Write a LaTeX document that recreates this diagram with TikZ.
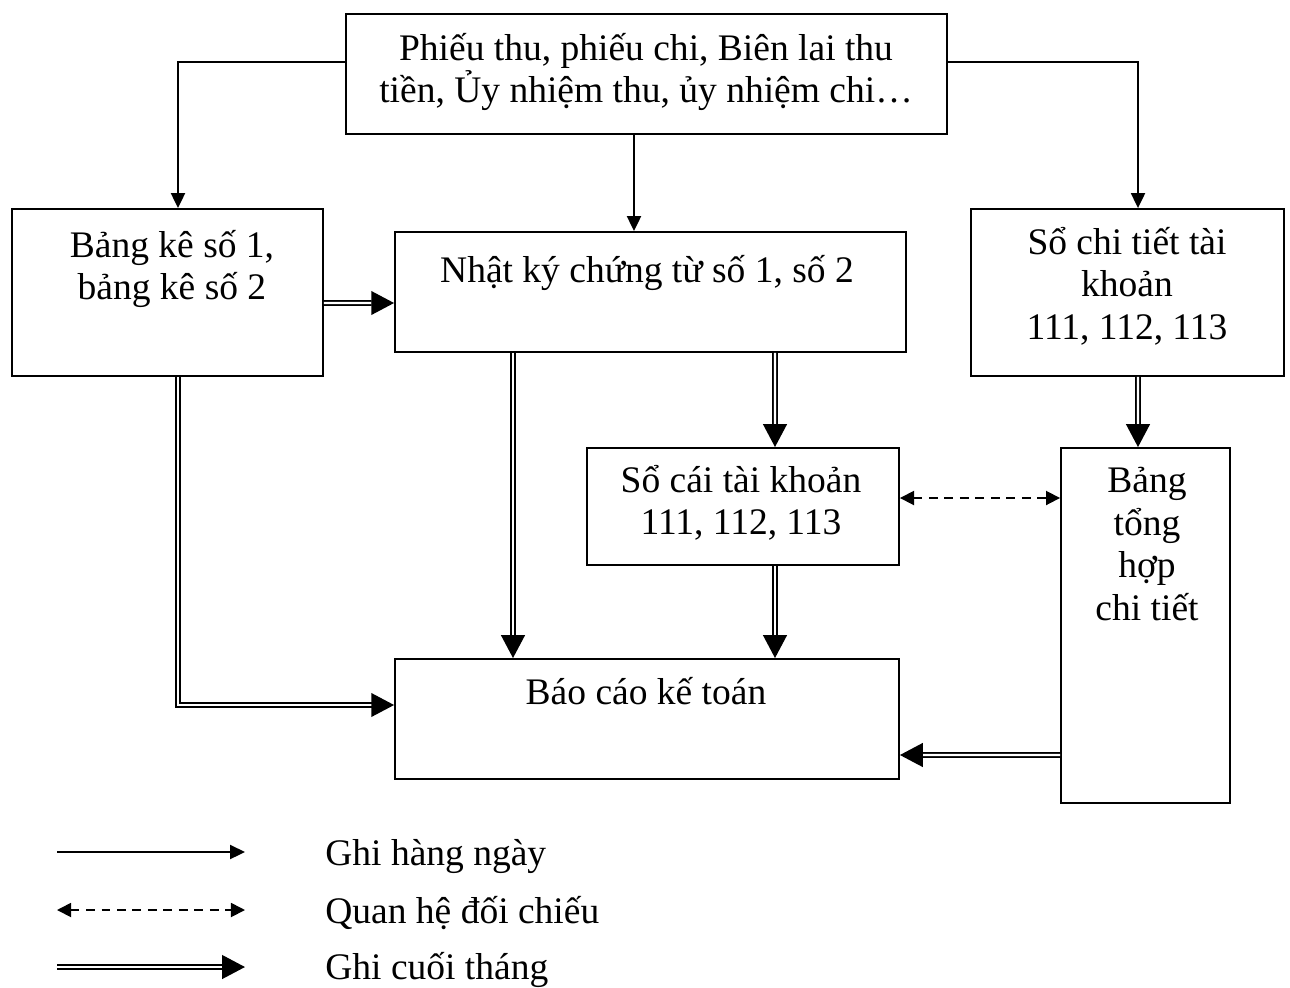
\documentclass[tikz,border=0pt]{standalone}
\usepackage{fontspec}
\setmainfont{Liberation Serif}
\usetikzlibrary{arrows.meta,calc}
\tikzstyle{box}=[draw=black,line width=1.1pt,shape=rectangle,inner sep=0pt]
\tikzstyle{txt}=[inner sep=0pt,align=center,font=\fontsize{21.35}{24.2}\selectfont]
\tikzstyle{daily}=[line width=1pt,-{Triangle[length=8.5pt,width=8pt]}]
\tikzstyle{monthly}=[double,double distance=1.3pt,line width=0.95pt,-{Triangle[length=13pt,width=13.5pt]}]
\tikzstyle{check}=[line width=1pt,dash pattern=on 5pt off 3.8pt,{Triangle[length=8pt,width=8pt]}-{Triangle[length=8pt,width=8pt]}]

\begin{document}
\begin{tikzpicture}[x=0.02cm, y=-0.02cm]
	\useasboundingbox (0,0) rectangle (1290,987);
	% boxes
	\node[box, minimum width=12.02cm, minimum height=2.4cm] (src) at (646.5,74) {};
	\node[box, minimum width=6.22cm, minimum height=3.34cm] (bk) at (167.5,292.5) {};
	\node[box, minimum width=10.22cm, minimum height=2.4cm] (nk) at (650.5,292) {};
	\node[box, minimum width=6.26cm, minimum height=3.34cm] (sct) at (1127.5,292.5) {};
	\node[box, minimum width=6.24cm, minimum height=2.34cm] (sc) at (743,506.5) {};
	\node[box, minimum width=3.38cm, minimum height=7.1cm] (bth) at (1145.5,625.5) {};
	\node[box, minimum width=10.08cm, minimum height=2.4cm] (bc) at (647,719) {};
	% texts
	\node[txt] at (646,72) {Phiếu thu, phiếu chi, Biên lai thu\\tiền, Ủy nhiệm thu, ủy nhiệm chi…};
	\node[txt] at (172,269) {Bảng kê số 1,\\bảng kê số 2};
	\node[txt] at (647,273) {Nhật ký chứng từ số 1, số 2};
	\node[txt] at (1127,286) {Sổ chi tiết tài\\khoản\\111, 112, 113};
	\node[txt] at (741,503) {Sổ cái tài khoản\\111, 112, 113};
	\node[txt] at (1147,544) {Bảng\\tổng\\hợp\\chi tiết};
	\node[txt] at (646,691) {Báo cáo kế toán};
	% connectors
	\draw[daily] ($(src.west)+(0,-12)$) -| ($(bk.north)+(10.5,0)$);
	\draw[daily] ($(src.south)+(-12.5,0)$) -- ($(nk.north)+(-16.5,0)$);
	\draw[daily] ($(src.east)+(0,-12)$) -| ($(sct.north)+(10.5,0)$);
	\draw[monthly] ($(bk.east)+(0,10.5)$) -- ($(nk.west)+(0,11)$);
	\draw[monthly] ($(bk.south)+(10.5,0)$) |- ($(bc.west)+(0,-14)$);
	\draw[monthly] ($(nk.south)+(-137.5,0)$) -- ($(bc.north)+(-134,0)$);
	\draw[monthly] ($(nk.south)+(124.5,0)$) -- ($(sc.north)+(32,0)$);
	\draw[monthly] ($(sct.south)+(10.5,0)$) -- ($(bth.north)+(-7.5,0)$);
	\draw[check] ($(sc.east)+(0,-8.5)$) -- ($(bth.west)+(0,-127.5)$);
	\draw[monthly] ($(sc.south)+(32,0)$) -- ($(bc.north)+(128,0)$);
	\draw[monthly] ($(bth.west)+(0,129.5)$) -- ($(bc.east)+(0,36)$);
	% legend
	\coordinate (d1) at (57,852);
	\coordinate (d2) at (245,852);
	\coordinate (q1) at (57,910);
	\coordinate (q2) at (245,910);
	\coordinate (m1) at (57,967);
	\coordinate (m2) at (245,967);
	\draw[daily] (d1) -- (d2);
	\draw[check] (q1) -- (q2);
	\draw[monthly] (m1) -- (m2);
	\node[txt, anchor=west] at (325,856) {Ghi hàng ngày};
	\node[txt, anchor=west] at (325,913) {Quan hệ đối chiếu};
	\node[txt, anchor=west] at (325,970) {Ghi cuối tháng};
\end{tikzpicture}
\end{document}
